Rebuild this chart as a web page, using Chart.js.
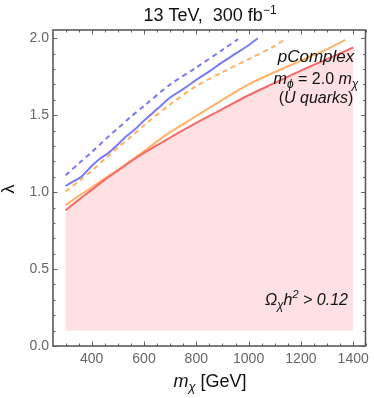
<!DOCTYPE html>
<html><head><meta charset="utf-8">
<script src="https://cdn.jsdelivr.net/npm/chart.js@4/dist/chart.umd.min.js"></script>
<style>html,body{margin:0;padding:0;background:#fff}canvas{display:block}</style>
</head><body>
<canvas id="c" width="374" height="398"></canvas>
<script>
// ---- data ----
const redMass      = [300, 350, 400, 450, 500, 550, 600, 650, 700, 800, 900, 1000, 1100, 1200, 1300, 1400];
const redLambda    = [0.882, 0.95, 1.015, 1.08, 1.14, 1.20, 1.255, 1.305, 1.355, 1.45, 1.54, 1.63, 1.71, 1.79, 1.865, 1.94];

const orangeMass   = [300, 350, 400, 450, 500, 550, 600, 650, 700, 800, 900, 1000, 1100, 1200, 1300, 1370];
const orangeLambda = [0.915, 0.975, 1.03, 1.09, 1.145, 1.205, 1.265, 1.33, 1.39, 1.495, 1.60, 1.70, 1.78, 1.855, 1.93, 1.99];

const blueMass     = [300, 330, 360, 400, 430, 460, 500, 530, 560, 600, 650, 700, 750, 800, 850, 900, 950, 1000, 1035];
const blueLambda   = [1.04, 1.07, 1.10, 1.17, 1.215, 1.25, 1.31, 1.36, 1.40, 1.465, 1.54, 1.615, 1.67, 1.73, 1.785, 1.845, 1.90, 1.955, 2.0];

const blueDashMass   = [300, 350, 400, 450, 500, 550, 600, 700, 800, 900, 960];
const blueDashLambda = [1.11, 1.185, 1.26, 1.34, 1.415, 1.49, 1.56, 1.70, 1.81, 1.925, 1.995];

const orangeDashMass   = [300, 350, 400, 450, 500, 550, 600, 700, 800, 900, 1000, 1100, 1135];
const orangeDashLambda = [1.005, 1.07, 1.14, 1.215, 1.29, 1.36, 1.435, 1.57, 1.69, 1.78, 1.865, 1.95, 1.99];

const relicFloor = 0.1;

const xTicks = [400, 600, 800, 1000, 1200, 1400];
const xMinorTicks = [300, 350, 450, 500, 550, 650, 700, 750, 850, 900, 950, 1050, 1100, 1150, 1250, 1300, 1350, 1450];
const yTicks = [0, 0.5, 1.0, 1.5, 2.0];
const yMinorTicks = [0.1, 0.2, 0.3, 0.4, 0.6, 0.7, 0.8, 0.9, 1.1, 1.2, 1.3, 1.4, 1.6, 1.7, 1.8, 1.9];

// ---- helpers ----
const pts = (xs, ys) => xs.map((x, i) => ({x, y: ys[i]}));
const FONT = '"Liberation Sans", Arial, sans-serif';

function drawRuns(ctx, x, y, parts, align) {
  let total = 0;
  parts.forEach(p => { ctx.font = p.font; p.w = ctx.measureText(p.t).width; total += p.w + (p.kern || 0); });
  let cx = align === 'center' ? x - total / 2 : (align === 'right' ? x - total : x);
  ctx.textAlign = 'left';
  ctx.textBaseline = 'alphabetic';
  parts.forEach(p => { ctx.font = p.font; ctx.fillText(p.t, cx, y + (p.dy || 0)); cx += p.w + (p.kern || 0); });
}

const decor = {
  id: 'decor',
  afterDatasetsDraw(chart) {
    const {ctx, chartArea: a, scales: {x, y}} = chart;
    ctx.save();
    ctx.strokeStyle = '#666';
    ctx.lineWidth = 1;
    const tick = (len, list, axis) => {
      list.forEach(v => {
        ctx.beginPath();
        if (axis === 'x') {
          const px = Math.round(x.getPixelForValue(v)) + 0.5;
          ctx.moveTo(px, a.bottom); ctx.lineTo(px, a.bottom - len);
          ctx.moveTo(px, a.top); ctx.lineTo(px, a.top + len);
        } else {
          const py = Math.round(y.getPixelForValue(v)) + 0.5;
          ctx.moveTo(a.left, py); ctx.lineTo(a.left + len, py);
          ctx.moveTo(a.right, py); ctx.lineTo(a.right - len, py);
        }
        ctx.stroke();
      });
    };
    tick(4.5, xTicks, 'x'); tick(2.5, xMinorTicks, 'x');
    tick(4.5, yTicks, 'y'); tick(2.5, yMinorTicks, 'y');
    ctx.strokeStyle = '#5a5a5a';
    ctx.lineWidth = 1.6;
    ctx.strokeRect(a.left, a.top, a.right - a.left, a.bottom - a.top);
    ctx.restore();
  },
  afterDraw(chart) {
    const {ctx} = chart;
    ctx.save();
    ctx.fillStyle = '#111';
    // title
    drawRuns(ctx, 210, 21, [
      {t: '13 TeV,  300 fb', font: `18px ${FONT}`},
      {t: '\u22121', font: `12px ${FONT}`, dy: -7}
    ], 'center');
    // x axis title
    drawRuns(ctx, 210, 387, [
      {t: 'm', font: `italic 18px ${FONT}`},
      {t: '\u03c7', font: `italic 13px ${FONT}`, dy: 4},
      {t: ' [GeV]', font: `18px ${FONT}`}
    ], 'center');
    // annotations
    drawRuns(ctx, 316, 62, [{t: 'pComplex', font: `italic 17px ${FONT}`}], 'center');
    drawRuns(ctx, 316, 83.5, [
      {t: 'm', font: `italic 16px ${FONT}`},
      {t: '\u03d5', font: `italic 12px ${FONT}`, dy: 4},
      {t: ' = 2.0 ', font: `16px ${FONT}`},
      {t: 'm', font: `italic 16px ${FONT}`},
      {t: '\u03c7', font: `italic 12px ${FONT}`, dy: 4}
    ], 'center');
    drawRuns(ctx, 316, 103, [
      {t: '(', font: `16px ${FONT}`},
      {t: 'U quarks', font: `italic 16px ${FONT}`},
      {t: ')', font: `16px ${FONT}`}
    ], 'center');
    drawRuns(ctx, 348, 305, [
      {t: '\u03a9', font: `italic 16px ${FONT}`},
      {t: '\u03c7', font: `italic 12px ${FONT}`, dy: 4},
      {t: 'h', font: `italic 16px ${FONT}`},
      {t: '2', font: `italic 11px ${FONT}`, dy: -7},
      {t: ' > 0.12', font: `italic 16px ${FONT}`}
    ], 'right');
    // y axis title (rotated lambda)
    ctx.translate(14, 189);
    ctx.rotate(-Math.PI / 2);
    ctx.font = `18px ${FONT}`;
    ctx.textAlign = 'center';
    ctx.textBaseline = 'alphabetic';
    ctx.fillText('\u03bb', 0, 0);
    ctx.restore();
  }
};

const line = (label, data, color, dash) => ({
  label, data, borderColor: color, borderWidth: 2, borderDash: dash || [],
  pointRadius: 0, fill: false, tension: 0.3, borderCapStyle: 'butt'
});

new Chart(document.getElementById('c'), {
  type: 'line',
  data: {
    datasets: [
      Object.assign(line('red', pts(redMass, redLambda), '#f76a6a'), {
        fill: {value: relicFloor}, backgroundColor: 'rgb(255,225,228)'
      }),
      line('orange', pts(orangeMass, orangeLambda), '#ffb266'),
      line('blue', pts(blueMass, blueLambda), '#7a7af2'),
      line('blueDash', pts(blueDashMass, blueDashLambda), '#7a7af2', [5, 4]),
      line('orangeDash', pts(orangeDashMass, orangeDashLambda), '#ffb266', [5, 4])
    ]
  },
  options: {
    responsive: false,
    animation: false,
    devicePixelRatio: 1,
    layout: {padding: {top: 30, right: 6, left: 0, bottom: 0}},
    plugins: {legend: {display: false}, tooltip: {enabled: false}, filler: {drawTime: 'beforeDatasetsDraw'}},
    scales: {
      x: {
        type: 'linear', min: 252, max: 1447,
        grid: {display: false, drawTicks: false}, border: {display: false},
        afterBuildTicks: s => { s.ticks = xTicks.map(v => ({value: v})); },
        afterFit: s => { s.height = 52; },
        ticks: {padding: 5, color: '#666', font: {family: FONT, size: 14}, callback: v => String(v), maxRotation: 0, autoSkip: false}
      },
      y: {
        type: 'linear', min: 0, max: 2.054,
        grid: {display: false, drawTicks: false}, border: {display: false},
        afterBuildTicks: s => { s.ticks = yTicks.map(v => ({value: v})); },
        afterFit: s => { s.width = 53; },
        ticks: {padding: 4, color: '#666', font: {family: FONT, size: 14}, callback: v => v.toFixed(1), autoSkip: false}
      }
    }
  },
  plugins: [decor]
});
</script>
</body></html>
